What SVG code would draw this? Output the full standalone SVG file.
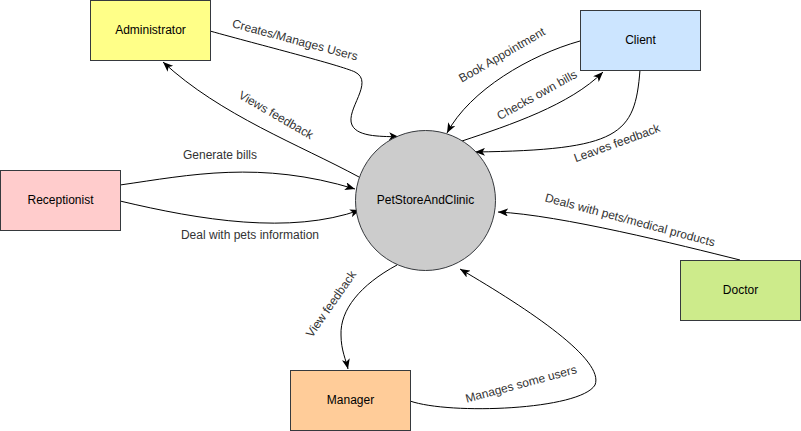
<svg xmlns="http://www.w3.org/2000/svg" width="801" height="431" viewBox="0 0 801 431">
<style>
.node{stroke:#36393d;stroke-width:1}
.nl{font-family:"Liberation Sans",Arial,sans-serif;font-size:12px;fill:#000;text-anchor:middle;dominant-baseline:central}
.el{font-family:"Liberation Sans",Arial,sans-serif;font-size:12px;fill:#333;text-anchor:middle;dominant-baseline:central}
.edge{fill:none;stroke:#000;stroke-width:1;marker-end:url(#arr)}
</style>
<defs>
<marker id="arr" viewBox="0 0 10 8" refX="10" refY="4" markerWidth="10" markerHeight="8" orient="auto" markerUnits="userSpaceOnUse">
<path d="M0,0 L10,4 L0,8 L2.5,4 z" fill="#000"/>
</marker>
</defs>
<rect width="801" height="431" fill="#fff"/>
<g id="connectors">
<path class="edge" d="M210,31 C260,45 340,65 355,72 C375,82 345,110 352,125 C358,138 385,136 399,137"/>
<path class="edge" d="M359,177 C300,145 220,115 163,62"/>
<path class="edge" d="M580,41 C530,55 470,90 447,133"/>
<path class="edge" d="M462,141 C510,125 570,105 603,72"/>
<path class="edge" d="M640,70 C635,135 620,150 475,152"/>
<path class="edge" d="M120,185 C190,175 260,160 355,189"/>
<path class="edge" d="M120,201 C200,220 290,235 360,210"/>
<path class="edge" d="M740,260 C680,245 560,215 498,212"/>
<path class="edge" d="M397,265 C360,285 340,310 341,335 C341,350 346,360 348,369"/>
<path class="edge" d="M410,401 C450,415 580,410 595,385 C605,360 530,310 460,269"/>
<text class="el" transform="translate(295,40) rotate(15)">Creates/Manages Users</text>
<text class="el" transform="translate(276,115) rotate(30)">Views feedback</text>
<text class="el" transform="translate(502,55) rotate(-30)">Book Appointment</text>
<text class="el" transform="translate(537,95) rotate(-29)">Checks own bills</text>
<text class="el" transform="translate(617,143) rotate(-20)">Leaves feedback</text>
<text class="el" x="220" y="155">Generate bills</text>
<text class="el" x="250" y="235">Deal with pets information</text>
<text class="el" transform="translate(630,220) rotate(15)">Deals with pets/medical products</text>
<text class="el" transform="translate(331,304) rotate(-55)">View feedback</text>
<text class="el" transform="translate(521,384) rotate(-15)">Manages some users</text>
</g>
<g id="administrator">
<rect class="node" x="90.5" y="0.5" width="120" height="60" fill="#ffff88"/>
<text class="nl" x="150.5" y="30">Administrator</text>
</g>
<g id="client">
<rect class="node" x="580.5" y="10.5" width="120" height="60" fill="#cce5ff"/>
<text class="nl" x="640.5" y="40">Client</text>
</g>
<g id="receptionist">
<rect class="node" x="0.5" y="170.5" width="120" height="60" fill="#ffcccc"/>
<text class="nl" x="60.5" y="200">Receptionist</text>
</g>
<g id="doctor">
<rect class="node" x="680.5" y="260.5" width="120" height="60" fill="#cdeb8b"/>
<text class="nl" x="740.5" y="290">Doctor</text>
</g>
<g id="manager">
<rect class="node" x="290.5" y="370.5" width="120" height="60" fill="#ffcc99"/>
<text class="nl" x="350.5" y="400">Manager</text>
</g>
<g id="petstoreandclinic">
<circle class="node" cx="425.5" cy="200.5" r="70" fill="#cccccc"/>
<text class="nl" x="425.5" y="200">PetStoreAndClinic</text>
</g>
</svg>
